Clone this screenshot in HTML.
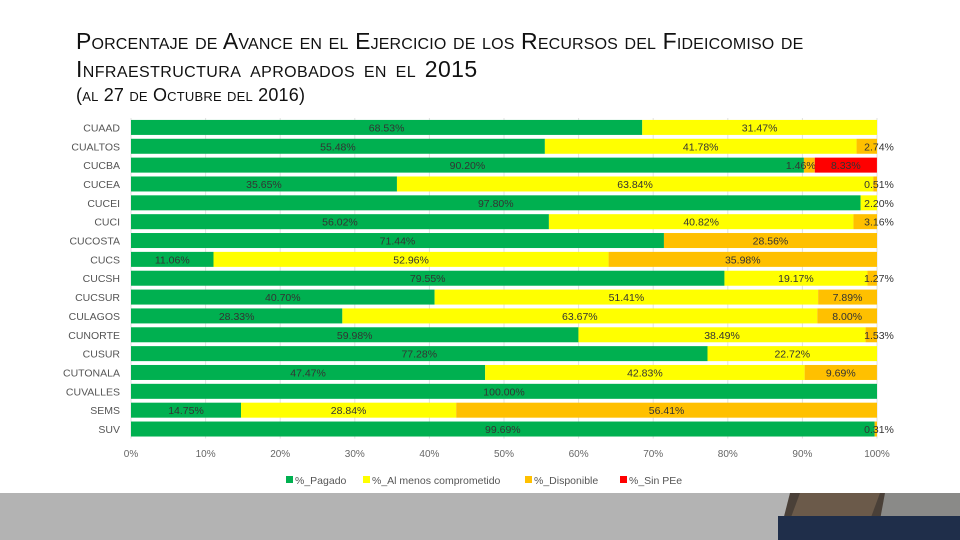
<!DOCTYPE html>
<html><head><meta charset="utf-8"><style>
body{margin:0;width:960px;height:540px;overflow:hidden;background:#fff;font-family:"Liberation Sans",sans-serif}
.t{position:absolute;left:76px;font-variant:small-caps;color:#111;white-space:nowrap}
</style></head><body>
<div class="t" style="top:28px;font-size:23px;letter-spacing:0.15px">Porcentaje de Avance en el Ejercicio de los Recursos del Fideicomiso de</div>
<div class="t" style="top:56px;font-size:23px;letter-spacing:0.4px;word-spacing:2px">Infraestructura aprobados en el 2015</div>
<div class="t" style="top:85px;font-size:18px;letter-spacing:0.2px">(al 27 de Octubre del 2016)</div>
<svg id="c" width="960" height="540" style="position:absolute;left:0;top:0">
<rect x="0" y="493" width="960" height="47" fill="#b3b3b3"/>
<g>
<polygon points="790,493 960,493 960,540 778,540" fill="#4a4038"/>
<polygon points="800,493 880,493 870,520 790,520" fill="#6b5a4a"/>
<polygon points="885,493 960,493 960,520 880,520" fill="#8a8a88"/>
<rect x="778" y="516" width="182" height="24" fill="#1f2e4a"/>
</g>
</svg>
<script>
const categories=["CUAAD","CUALTOS","CUCBA","CUCEA","CUCEI","CUCI","CUCOSTA","CUCS","CUCSH","CUCSUR","CULAGOS","CUNORTE","CUSUR","CUTONALA","CUVALLES","SEMS","SUV"];
const pagado=[68.53,55.48,90.20,35.65,97.80,56.02,71.44,11.06,79.55,40.70,28.33,59.98,77.28,47.47,100,14.75,99.69];
const comprometido=[31.47,41.78,0,63.84,2.20,40.82,0,52.96,19.17,51.41,63.67,38.49,22.72,42.83,0,28.84,0];
const disponible=[0,2.74,1.46,0.51,0,3.16,28.56,35.98,1.27,7.89,8.00,1.53,0,9.69,0,56.41,0.31];
const sinPE=[0,0,8.33,0,0,0,0,0,0,0,0,0,0,0,0,0,0];
const ticks=[0,10,20,30,40,50,60,70,80,90,100];
const seriesNames=["%_Pagado","%_Al menos comprometido","%_Disponible","%_Sin PEe"];
const colors=["#00b050","#ffff00","#ffc000","#ff0000"];
const svg=document.getElementById('c');const NS="http://www.w3.org/2000/svg";
const x0=131,x1=877,y0=118,step=18.85,bh=15;
const X=v=>x0+(x1-x0)*v/100;
const Y=i=>y0+i*step;
function mk(t,a){const e=document.createElementNS(NS,t);for(const k in a)e.setAttribute(k,a[k]);svg.appendChild(e);return e;}
ticks.forEach(t=>{
 const l=mk('line',{x1:X(t),x2:X(t),y1:y0,y2:Y(17),stroke:'#e0e0e0'});
 
 
 const tx=mk('text',{x:X(t),y:457,'font-size':10,'text-anchor':'middle',fill:'#666'});
 tx.textContent=t+'%';
 
 
});
const series=[pagado,comprometido,disponible,sinPE];
categories.forEach((c,i)=>{
 const cy=Y(i)+step/2;
 const lb=mk('text',{x:120,y:cy+4,'font-size':10.5,'text-anchor':'end',fill:'#555'});
 lb.textContent=c;
 
 
 let acc=0;
 series.forEach((s,k)=>{
  const v=s[i];if(!v)return;
  const r=mk('rect',{x:X(acc),y:cy-bh/2,width:X(acc+v)-X(acc),height:bh,fill:colors[k]});
  
  
  const mid=v<4?X(acc+v)+ (k===2&&sinPE[i]?-14:2):X(acc+v/2);
  const t=mk('text',{x:mid,y:cy+4,'font-size':10.5,'text-anchor':'middle',fill:'#333'});
  t.textContent=v.toFixed(2)+'%';
  
  
  acc+=v;
 });
});
let lx=286;
seriesNames.forEach((n,k)=>{
 const r=mk('rect',{x:lx,y:476,width:7,height:7,fill:colors[k]});
 
 
 const t=mk('text',{x:lx+9,y:484,'font-size':10.5,fill:'#555'});
 t.textContent=n;
 
 
 lx+=[77,162,95,0][k];
});
</script>
</body></html>
